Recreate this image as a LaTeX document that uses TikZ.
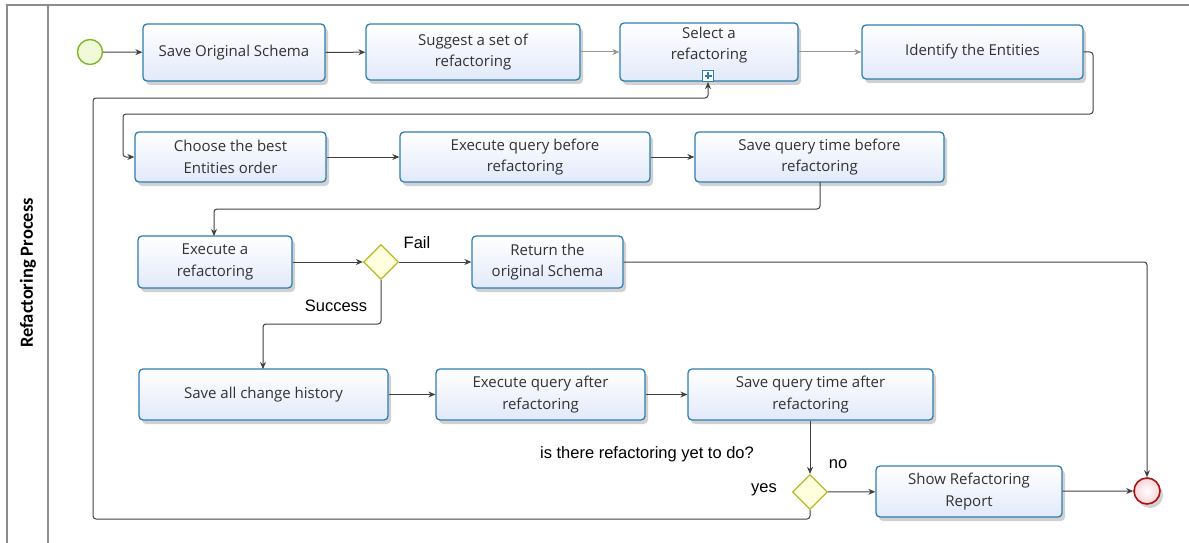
\documentclass[tikz,border=0pt]{standalone}
\usepackage{fontspec}
\setmainfont{Open Sans}
\newfontfamily\arialf{Liberation Sans}
\newfontfamily\calf{Carlito}
\usetikzlibrary{shapes.geometric,arrows.meta,shadows,calc}
\definecolor{boxborder}{RGB}{46,126,178}
\definecolor{boxfill}{RGB}{226,233,250}
\definecolor{linegray}{RGB}{64,64,64}
\definecolor{lightline}{RGB}{150,150,150}
\definecolor{framegray}{RGB}{140,140,140}
\definecolor{gwborder}{RGB}{184,184,40}
\definecolor{gwfill}{RGB}{255,255,222}
\definecolor{startborder}{RGB}{125,186,38}
\definecolor{startfill}{RGB}{240,249,216}
\definecolor{endborder}{RGB}{176,16,16}
\definecolor{endfill}{RGB}{246,212,216}
\definecolor{txt}{RGB}{50,50,50}
\tikzset{
  task/.style={draw=boxborder, line width=1.3pt, rounded corners=4pt,
    top color=white, bottom color=boxfill, align=center,
    font=\fontsize{15}{21.5}\selectfont, text=txt, inner sep=0pt,
    drop shadow={shadow xshift=3pt, shadow yshift=-4pt, opacity=0.18, fill=black}},
  gateway/.style={diamond, draw=gwborder, line width=1.3pt, fill=gwfill,
    minimum size=35pt, inner sep=0pt},
  flow/.style={draw=linegray, line width=1pt, rounded corners=3pt,
    -{Stealth[length=7pt,width=6pt]}},
  lflow/.style={flow, draw=lightline},
  lbl/.style={font=\arialf\fontsize{16.5}{18}\selectfont, text=black},
  frame/.style={draw=framegray, line width=1.8pt}
}
\begin{document}
\begin{tikzpicture}[x=1pt,y=-1pt]
\useasboundingbox (0,0) rectangle (1189,543);
% pool frame
\draw[frame] (7,545) -- (7,5) -- (1190,5);
\draw[frame] (48,5) -- (48,545);
\node[rotate=90, font=\calf\bfseries\fontsize{18.5}{20}\selectfont] (lane) at (28,273) {Refactoring Process};

% events
\node[circle, draw=startborder, line width=1.4pt, fill=startfill, minimum size=25pt, inner sep=0pt] (start) at (90,52) {};
\node[circle, draw=endborder, line width=1.6pt, inner color=white, outer color=endfill, minimum size=26pt, inner sep=0pt,
  drop shadow={shadow xshift=3pt, shadow yshift=-4pt, opacity=0.18, fill=black}] (end) at (1147,491) {};

% tasks
\node[task, minimum width=182pt, minimum height=57pt] (save) at (234,52.5) {Save Original Schema};
\node[task, minimum width=214pt, minimum height=56pt] (suggest) at (473,52) {Suggest a set of\\refactoring};
\node[task, minimum width=178pt, minimum height=58pt] (select) at (709,52) {};
\node[font=\fontsize{15}{21.5}\selectfont, text=txt, align=center, inner sep=0pt] (selecttxt) at (709,45) {Select a\\refactoring};
\node[draw=boxborder, line width=1.2pt, fill=white, minimum size=11pt, inner sep=0pt] (marker) at (708,76) {};
\draw[boxborder, line width=1.6pt] ($(marker.center)+(-3.5,0)$) -- ($(marker.center)+(3.5,0)$)
  ($(marker.center)+(0,-3.5)$) -- ($(marker.center)+(0,3.5)$);
\node[task, minimum width=221pt, minimum height=54pt] (identify) at (972.5,52) {Identify the Entities};

\node[task, minimum width=191pt, minimum height=50pt] (choose) at (230.5,157) {Choose the best\\Entities order};
\node[task, minimum width=250pt, minimum height=50pt] (exbefore) at (525,157) {Execute query before\\refactoring};
\node[task, minimum width=249pt, minimum height=50pt] (savebefore) at (819.5,157) {Save query time before\\refactoring};

\node[task, minimum width=154pt, minimum height=52pt] (exref) at (215,262) {Execute a\\refactoring};
\node[gateway] (d1) at (381,262) {};
\node[task, minimum width=151pt, minimum height=52pt] (ret) at (547.5,262) {Return the\\original Schema};

\node[task, minimum width=249pt, minimum height=51pt] (saveall) at (263.5,394.5) {Save all change history};
\node[task, minimum width=209pt, minimum height=51pt] (exafter) at (540.5,394.5) {Execute query after\\refactoring};
\node[task, minimum width=245pt, minimum height=51pt] (saveafter) at (810.5,394.5) {Save query time after\\refactoring};

\node[gateway] (d2) at (810,492) {};
\node[task, minimum width=186pt, minimum height=51pt] (report) at (969,491.5) {Show Refactoring\\Report};

% labels
\node[lbl] (fail) at (417,243) {Fail};
\node[lbl] (success) at (336,306) {Success};
\node[lbl] (question) at (647,454) {is there refactoring yet to do?};
\node[lbl] (no) at (838,464) {no};
\node[lbl] (yes) at (764,490) {yes};

% flows
\draw[flow] (start) -- (save);
\draw[flow] (save) -- (suggest);
\draw[lflow] (suggest) -- (select);
\draw[lflow] (select) -- (identify);
\draw[flow] (identify.east) -- (1093,52) -- (1093,114) -- (123,114) -- (123,157) -- (choose.west);
\draw[flow] (choose) -- (exbefore);
\draw[flow] (exbefore) -- (savebefore);
\draw[flow] (820,182) -- (820,209) -- (214,209) -- (214,236);
\draw[flow] (exref) -- (d1);
\draw[flow] (d1) -- (ret);
\draw[flow] (ret.east) -- (1147,262) -- (end.north);
\draw[flow] (d1.south) -- (381,324) -- (263,324) -- (263,369);
\draw[flow] (saveall) -- (exafter);
\draw[flow] (exafter) -- (saveafter);
\draw[flow] (saveafter.south -| d2) -- (d2.north);
\draw[flow] (d2) -- (report);
\draw[flow] (report) -- (end);
\draw[flow] (d2.south) -- (810,519) -- (93,519) -- (93,98) -- (708,98) -- (marker.south);
\end{tikzpicture}
\end{document}
